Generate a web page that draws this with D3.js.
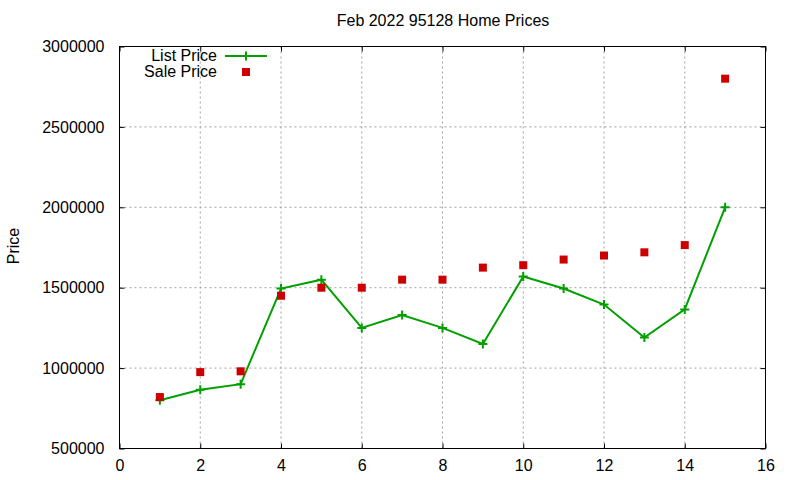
<!DOCTYPE html>
<html><head><meta charset="utf-8">
<script src="https://cdn.jsdelivr.net/npm/d3@7"></script>
<style>body{margin:0;background:#fff}svg{display:block;font-family:"Liberation Sans",Arial,sans-serif}</style>
</head><body>
<svg id="c" width="800" height="480"></svg>
<script>
const months = [1,2,3,4,5,6,7,8,9,10,11,12,13,14,15];
const listPrice = [800000,865000,900000,1495000,1550000,1250000,1330000,1250000,1150000,1570000,1495000,1395000,1190000,1365000,2000000];
const salePrice = [820000,975000,980000,1450000,1500000,1500000,1550000,1550000,1625000,1640000,1675000,1700000,1720000,1765000,2800000];
const xTicks = [0,2,4,6,8,10,12,14,16];
const yTicks = [500000,1000000,1500000,2000000,2500000,3000000];
const title = "Feb 2022 95128 Home Prices";
const yLabel = "Price";
const seriesNames = ["List Price","Sale Price"];

const L=119.5,R=765.5,T=46.5,B=448.5;
const svg=d3.select("#c");
const x=d3.scaleLinear().domain([0,16]).range([L,R]);
const y=d3.scaleLinear().domain([500000,3000000]).range([B,T]);
const green="#00a000", red="#cc0000", fs=16;

// grid
svg.append("g").selectAll("line").data(xTicks.slice(1,-1)).join("line")
  .attr("x1",d=>x(d)).attr("x2",d=>x(d)).attr("y1",T).attr("y2",B)
  .attr("stroke","#a0a0a0").attr("stroke-dasharray","2,3");
svg.append("g").selectAll("line").data(yTicks.slice(1,-1)).join("line")
  .attr("y1",d=>y(d)).attr("y2",d=>y(d)).attr("x1",L).attr("x2",R)
  .attr("stroke","#a0a0a0").attr("stroke-dasharray","2,3");

// axes
const ax=svg.append("g").attr("transform",`translate(0,${B})`)
  .call(d3.axisBottom(x).tickValues(xTicks).tickSizeInner(-5).tickSizeOuter(0).tickPadding(11).tickFormat(d3.format("d")));
const axT=svg.append("g").attr("transform",`translate(0,${T})`)
  .call(d3.axisTop(x).tickValues(xTicks).tickSizeInner(-5).tickSizeOuter(0).tickFormat(""));
const ay=svg.append("g").attr("transform",`translate(${L},0)`)
  .call(d3.axisLeft(y).tickValues(yTicks).tickSizeInner(-5).tickSizeOuter(0).tickPadding(15).tickFormat(d3.format("d")));
const ayR=svg.append("g").attr("transform",`translate(${R},0)`)
  .call(d3.axisRight(y).tickValues(yTicks).tickSizeInner(-5).tickSizeOuter(0).tickFormat(""));
[ax,axT,ay,ayR].forEach(g=>{g.select(".domain").remove();g.selectAll("text").attr("font-size",fs).attr("fill","#000").attr("font-family","Liberation Sans, Arial, sans-serif");g.selectAll("line").attr("stroke","#000");});
svg.append("rect").attr("x",L).attr("y",T).attr("width",R-L).attr("height",B-T).attr("fill","none").attr("stroke","#000");

// title & label
svg.append("text").attr("x",443).attr("y",26).attr("text-anchor","middle").attr("font-size",fs).text(title);
svg.append("text").attr("transform","translate(19,246) rotate(-90)").attr("text-anchor","middle").attr("font-size",fs).text(yLabel);

// list line
const pts=months.map((m,i)=>[m,listPrice[i]]);
svg.append("path").datum(pts).attr("fill","none").attr("stroke",green).attr("stroke-width",2)
  .attr("d",d3.line().x(d=>x(d[0])).y(d=>y(d[1])));
const plus=(g,cx,cy)=>g.append("path").attr("d",`M${cx-4.5},${cy}H${cx+4.5}M${cx},${cy-4.5}V${cy+4.5}`).attr("stroke",green).attr("stroke-width",2);
const pg=svg.append("g");
pts.forEach(d=>plus(pg,x(d[0]),y(d[1])));
// sale squares
svg.append("g").selectAll("rect").data(months.map((m,i)=>[m,salePrice[i]])).join("rect")
  .attr("x",d=>x(d[0])-4).attr("y",d=>y(d[1])-4).attr("width",8).attr("height",8).attr("fill",red);

// legend
svg.append("text").attr("x",217).attr("y",61).attr("text-anchor","end").attr("font-size",fs).text(seriesNames[0]);
svg.append("text").attr("x",217).attr("y",77).attr("text-anchor","end").attr("font-size",fs).text(seriesNames[1]);
svg.append("line").attr("x1",225).attr("x2",267).attr("y1",56).attr("y2",56).attr("stroke",green).attr("stroke-width",2);
plus(svg,246,56);
svg.append("rect").attr("x",242).attr("y",68).attr("width",8).attr("height",8).attr("fill",red);
</script>
</body></html>
